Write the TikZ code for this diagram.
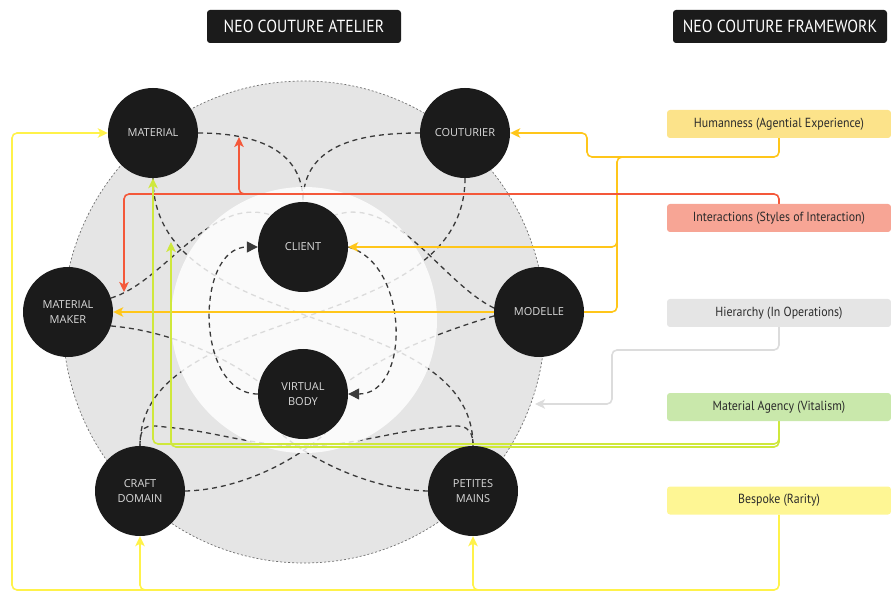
\documentclass[tikz,border=0pt]{standalone}
\usepackage{fontspec}
\setsansfont{Open Sans}
\newfontfamily\condfont[FakeStretch=0.9]{PT Sans}
\usetikzlibrary{arrows.meta}
\definecolor{nodeblack}{HTML}{1B1B1B}
\definecolor{nodetext}{HTML}{DADADA}
\definecolor{curvegray}{HTML}{3A3A3A}
\definecolor{ringgray}{HTML}{E5E5E5}
\definecolor{ringedge}{HTML}{707070}
\definecolor{labeltext}{HTML}{2B2B2B}
\definecolor{humanfill}{HTML}{FCE38A}
\definecolor{humanline}{HTML}{FFC61A}
\definecolor{interfill}{HTML}{F7A595}
\definecolor{interline}{HTML}{F4583A}
\definecolor{hierfill}{HTML}{E5E5E5}
\definecolor{hierline}{HTML}{DCDCDC}
\definecolor{agencyfill}{HTML}{C9E8AB}
\definecolor{agencyline}{HTML}{CFE83C}
\definecolor{bespokefill}{HTML}{FEF694}
\definecolor{bespokeline}{HTML}{FFF24A}
\pgfdeclarelayer{ring}
\pgfdeclarelayer{veil}
\pgfdeclarelayer{wires}
\pgfsetlayers{ring,veil,wires,main}
\tikzset{
  agent/.style={circle, fill=nodeblack, minimum size=90pt, inner sep=0pt, text=nodetext, align=center, font=\sffamily\fontsize{11}{15.5}\selectfont},
  heading/.style={rectangle, rounded corners=3pt, fill=nodeblack, text=white, minimum height=33pt, font=\condfont\fontsize{17.5}{19}\selectfont},
  facet/.style={rectangle, rounded corners=3pt, minimum width=224pt, minimum height=28pt, text=labeltext, font=\condfont\fontsize{13.2}{15}\selectfont},
  link/.style={draw=curvegray, line width=1.3pt, dash pattern=on 5pt off 4pt},
  turn/.style={link, -{Triangle[length=11pt,width=11pt]}},
  wire/.style={line width=1.6pt, rounded corners=5pt},
  head/.style={-{Stealth[length=10pt,width=9.5pt,inset=2.5pt]}}
}
\begin{document}
\begin{tikzpicture}[x=1pt, y=1pt]
        \useasboundingbox (0,0) rectangle (891,-593);
        % Place nodes
        \node[agent] (material) at (153,-133) {MATERIAL};
        \node[agent] (couturier) at (465,-133) {COUTURIER};
        \node[agent] (client) at (303,-247) {CLIENT};
        \node[agent] (matmaker) at (68,-312) {MATERIAL\\MAKER};
        \node[agent] (modelle) at (539,-312) {MODELLE};
        \node[agent] (vbody) at (303,-394) {VIRTUAL\\BODY};
        \node[agent] (craft) at (140,-491) {CRAFT\\DOMAIN};
        \node[agent] (petites) at (473,-491) {PETITES\\MAINS};
        \node[heading, minimum width=194pt] (atelier) at (304,-26.5) {NEO COUTURE ATELIER};
        \node[heading, minimum width=214pt] (framework) at (780,-26.5) {NEO COUTURE FRAMEWORK};
        \node[facet, fill=humanfill] (humanness) at (779,-124) {Humanness (Agential Experience)};
        \node[facet, fill=interfill] (interactions) at (779,-218) {Interactions (Styles of Interaction)};
        \node[facet, fill=hierfill] (hierarchy) at (779,-313) {Hierarchy (In Operations)};
        \node[facet, fill=agencyfill] (agency) at (779,-407) {Material Agency (Vitalism)};
        \node[facet, fill=bespokefill] (bespoke) at (779,-500.5) {Bespoke (Rarity)};
        \coordinate (redup) at (239,-137);
        \coordinate (reddown) at (124,-292);
        \coordinate (greentip) at (171,-242);
        \coordinate (graytip) at (535,-404);

        % Atelier ring and its curves
        \begin{pgfonlayer}{ring}
        \filldraw[fill=ringgray, draw=ringedge, line width=0.7pt, dash pattern=on 2pt off 2pt] (304,-322) circle (241pt);
        \draw[link] (material.east) to[out=0, in=90, looseness=1.1] (client.north);
        \draw[link] (couturier.west) to[out=180, in=90, looseness=1.1] (client.north);
        \draw[link] (couturier.south) .. controls (465,-340) and (140,-300) .. (craft.north);
        \draw[link] (material.south) .. controls (153,-340) and (473,-300) .. (petites.north);
        \draw[link] (matmaker.18) .. controls (165,-282) and (210,-195) .. (client.135);
        \draw[link] (modelle.175) .. controls (441,-282) and (396,-195) .. (client.45);
        \draw[link] (matmaker.-18) .. controls (160,-330) and (215,-350) .. (vbody.165);
        \draw[link] (modelle.185) .. controls (447,-330) and (392,-350) .. (vbody.15);
        \draw[link] (craft.east) .. controls (235,-490) and (290,-465) .. (vbody.300);
        \draw[link] (petites.west) .. controls (378,-490) and (317,-465) .. (vbody.240);
        \draw[link] (craft.north) .. controls (140,-420) and (150,-426) .. (175,-428)
            .. controls (215,-432) and (255,-446) .. (303,-446)
            .. controls (351,-446) and (391,-432) .. (431,-428)
            .. controls (456,-426) and (473,-420) .. (petites.north);
        \end{pgfonlayer}
        \begin{pgfonlayer}{veil}
        \fill[white, opacity=0.82] (304,-320) circle (133pt);
        \end{pgfonlayer}

        % Draw edges
        \begin{pgfonlayer}{wires}
        \draw[turn] (vbody.west) to[out=180, in=180, looseness=1.1] (client.west);
        \draw[turn] (client.east) to[out=-15, in=0, looseness=1.1] (vbody.east);
        \draw[wire, humanline, head] (humanness.south) -- (779,-157) -- (587,-157) -- (587,-133) -- (couturier.east);
        \draw[wire, humanline, head] (640,-157) -- (617,-157) -- (617,-247) -- (client.east);
        \draw[wire, humanline, head] (617,-240) -- (617,-312) -- (matmaker.east);
        \draw[wire, interline, head] (interactions.north) -- (779,-194) -- (124,-194) -- (reddown);
        \draw[wire, interline, head] (260,-194) -- (239,-194) -- (redup);
        \draw[wire, hierline, head] (hierarchy.south) -- (779,-350) -- (612,-350) -- (612,-404) -- (graytip);
        \draw[wire, agencyline, head] (agency.south) -- (779,-444) -- (153,-444) -- (material.south);
        \draw[wire, agencyline, head] (agency.south) -- (779,-447) -- (171,-447) -- (greentip);
        \draw[wire, bespokeline, head] (bespoke.south) -- (779,-590) -- (12,-590) -- (12,-133) -- (material.west);
        \draw[wire, bespokeline, head] (160,-590) -- (140,-590) -- (craft.south);
        \draw[wire, bespokeline, head] (493,-590) -- (473,-590) -- (petites.south);
        \end{pgfonlayer}
\end{tikzpicture}
\end{document}
